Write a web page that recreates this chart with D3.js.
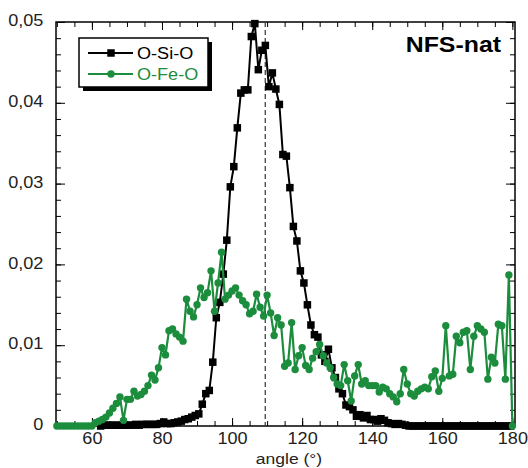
<!DOCTYPE html>
<html><head><meta charset="utf-8">
<script src="https://cdn.jsdelivr.net/npm/d3@7"></script>
<style>body{margin:0;background:#fff}</style>
</head><body><svg id="c" width="528" height="468"></svg>
<script>
// ---------- data ----------
const seriesNames = ["O-Si-O", "O-Fe-O"];
const siAngles = d3.range(62.5, 180, 1);          // 62.5 .. 179.5
const siValues = [
  0, 0.0001, 0.0001, 0.0001, 0.0001, 0.0001, 0.0001, 0.0001, 0.0001, 0.0001,
  0.0002, 0.0001, 0.0002, 0.0002, 0.0002, 0.0002, 0.0002, 0.0003, 0.0005, 0.0003,
  0.0003, 0.0004, 0.0005, 0.0006, 0.0008, 0.0009, 0.0011, 0.0013, 0.0015, 0.0027,
  0.0040, 0.0044, 0.0079, 0.0134, 0.0153, 0.0188, 0.0230, 0.0296, 0.0321, 0.0369,
  0.0412, 0.0416, 0.0416, 0.0482, 0.0498, 0.0441, 0.0465, 0.0471, 0.0420, 0.0437,
  0.0417, 0.0398, 0.0336, 0.0334, 0.0295, 0.0247, 0.0229, 0.0192, 0.0177, 0.0150,
  0.0125, 0.0113, 0.0110, 0.0088, 0.0080, 0.0095, 0.0072, 0.0060, 0.0046, 0.0040,
  0.0026, 0.0024, 0.0020, 0.0012, 0.0014, 0.0010, 0.0013, 0.0008, 0.0008, 0.0006,
  0.0009, 0.0007, 0.0004, 0.0003, 0.0002, 0.0003, 0.0002, 0.0001, 0, 0,
  0, 0, 0, 0, 0, 0, 0, 0, 0, 0,
  0, 0, 0, 0, 0, 0, 0, 0, 0, 0,
  0, 0, 0, 0, 0, 0, 0, 0
];
const feAngles = d3.range(50, 181, 1);            // 50 .. 180
const feValues = [
  0, 0, 0, 0, 0, 0, 0, 0, 0, 0,
  0, 0.0004, 0.0006, 0.0008, 0.0011, 0.0016, 0.0022, 0.0028, 0.0036, 0.0007,
  0.0033, 0.0033, 0.0043, 0.0037, 0.0039, 0.0043, 0.0050, 0.0063, 0.0057, 0.0072,
  0.0097, 0.0088, 0.0118, 0.0120, 0.0114, 0.0110, 0.0105, 0.0157, 0.0142, 0.0135,
  0.0150, 0.0171, 0.0159, 0.0165, 0.0192, 0.0142, 0.0177, 0.0215, 0.0157, 0.0162,
  0.0167, 0.0171, 0.0162, 0.0155, 0.0150, 0.0139, 0.0142, 0.0163, 0.0147, 0.0136,
  0.0162, 0.0140, 0.0112, 0.0134, 0.0125, 0.0074, 0.0078, 0.0128, 0.0070, 0.0087,
  0.0097, 0.0075, 0.0070, 0.0084, 0.0092, 0.0101, 0.0087, 0.0078, 0.0072, 0.0060,
  0.0052, 0.0050, 0.0076, 0.0056, 0.0031, 0.0062, 0.0076, 0.0052, 0.0056, 0.0050,
  0.0050, 0.0050, 0.0042, 0.0048, 0.0046, 0.0040, 0.0036, 0.0030, 0.0040, 0.0070,
  0.0052, 0.0040, 0.0037, 0.0043, 0.0046, 0.0048, 0.0046, 0.0061, 0.0068, 0.0043,
  0.0059, 0.0124, 0.0062, 0.0064, 0.0111, 0.0103, 0.0116, 0.0118, 0.0070, 0.0111,
  0.0124, 0.0120, 0.0116, 0.0058, 0.0085, 0.0078, 0.0126, 0.0124, 0.0058, 0.0187,
  0
];
const xMajorTicks = [60, 80, 100, 120, 140, 160, 180];
const xTickLabels = ["60", "80", "100", "120", "140", "160", "180"];
const xMinorTicks = d3.range(50, 181, 5);
const yMajorTicks = [0, 0.01, 0.02, 0.03, 0.04, 0.05];
const yTickLabels = ["0", "0,01", "0,02", "0,03", "0,04", "0,05"];
const yMinorTicks = d3.range(0, 0.0501, 0.002);
const tetraAngle = 109.47;
const titleText = "NFS-nat";
const xTitle = "angle (°)";

// ---------- drawing ----------
const GREEN = "#1b8d3d";
const FONT = "'Liberation Sans', Arial, Helvetica, sans-serif";
const SX = 1.13;
const svg = d3.select("#c");
const L = 56, R = 515, T = 22, B = 426;
const x = d3.scaleLinear().domain([49.75, 180.75]).range([L, R]);
const y = d3.scaleLinear().domain([0, 0.05]).range([B, T]);

function addAxis(axis, tr) {
  const g = svg.append("g").attr("transform", tr).call(axis);
  g.select(".domain").remove();
  g.attr("color", "#000").attr("font-family", FONT).attr("font-size", 16);
  g.selectAll(".tick line").attr("stroke-width", 1);
  return g;
}
// minor ticks
addAxis(d3.axisBottom(x).tickValues(xMinorTicks).tickSizeInner(-5).tickSizeOuter(0).tickFormat(""), `translate(0,${B})`);
addAxis(d3.axisTop(x).tickValues(xMinorTicks).tickSizeInner(-5).tickSizeOuter(0).tickFormat(""), `translate(0,${T})`);
addAxis(d3.axisLeft(y).tickValues(yMinorTicks).tickSizeInner(-5).tickSizeOuter(0).tickFormat(""), `translate(${L},0)`);
addAxis(d3.axisRight(y).tickValues(yMinorTicks).tickSizeInner(-5).tickSizeOuter(0).tickFormat(""), `translate(${R},0)`);
// major ticks
const gx = addAxis(d3.axisBottom(x).tickValues(xMajorTicks).tickSizeInner(-8).tickSizeOuter(0)
  .tickFormat((d, i) => xTickLabels[i]), `translate(0,${B})`);
gx.selectAll(".tick text").attr("y", 18).attr("dy", 0).attr("fill", "#222")
  .attr("transform", `scale(${SX},1)`);
addAxis(d3.axisTop(x).tickValues(xMajorTicks).tickSizeInner(-8).tickSizeOuter(0).tickFormat(""), `translate(0,${T})`);
const gy = addAxis(d3.axisLeft(y).tickValues(yMajorTicks).tickSizeInner(-9).tickSizeOuter(0)
  .tickFormat((d, i) => yTickLabels[i]), `translate(${L},0)`);
gy.selectAll(".tick text").attr("x", -12.7 / SX).attr("dy", "0.23em").attr("fill", "#222")
  .attr("transform", `scale(${SX},1)`);
addAxis(d3.axisRight(y).tickValues(yMajorTicks).tickSizeInner(-9).tickSizeOuter(0).tickFormat(""), `translate(${R},0)`);

// frame
svg.append("rect").attr("x", L).attr("y", T).attr("width", R - L).attr("height", B - T)
  .attr("fill", "none").attr("stroke", "#000").attr("stroke-width", 1.5);

// dashed tetrahedral line
svg.append("line").attr("x1", x(tetraAngle)).attr("x2", x(tetraAngle))
  .attr("y1", y(0.05)).attr("y2", y(0))
  .attr("stroke", "#333").attr("stroke-width", 1.2).attr("stroke-dasharray", "5,3");

const line = d3.line().x(d => x(d[0])).y(d => y(d[1]));
const siData = siAngles.map((a, i) => [a, siValues[i]]);
const feData = feAngles.map((a, i) => [a, feValues[i]]);

// O-Si-O
svg.append("path").datum(siData).attr("d", line).attr("fill", "none")
  .attr("stroke", "#000").attr("stroke-width", 2).attr("stroke-linejoin", "round");
svg.append("g").selectAll("rect").data(siData).join("rect")
  .attr("x", d => x(d[0]) - 3.75).attr("y", d => y(d[1]) - 3.75)
  .attr("width", 7.5).attr("height", 7.5).attr("fill", "#000");

// O-Fe-O
svg.append("path").datum(feData).attr("d", line).attr("fill", "none")
  .attr("stroke", GREEN).attr("stroke-width", 2.2).attr("stroke-linejoin", "round");
svg.append("g").selectAll("circle").data(feData).join("circle")
  .attr("cx", d => x(d[0])).attr("cy", d => y(d[1])).attr("r", 3.7).attr("fill", GREEN);

// legend
svg.append("rect").attr("x", 83).attr("y", 42).attr("width", 129).attr("height", 49).attr("fill", "#000");
svg.append("rect").attr("x", 79).attr("y", 38).attr("width", 129).attr("height", 49)
  .attr("fill", "#fff").attr("stroke", "#000").attr("stroke-width", 1.5);
const legY = [53, 74], legCol = ["#000", GREEN];
seriesNames.forEach((n, i) => {
  svg.append("line").attr("x1", 88).attr("x2", 133).attr("y1", legY[i]).attr("y2", legY[i])
    .attr("stroke", legCol[i]).attr("stroke-width", 2);
  if (i === 0) svg.append("rect").attr("x", 111 - 3.75).attr("y", legY[i] - 3.75).attr("width", 7.5).attr("height", 7.5).attr("fill", "#000");
  else svg.append("circle").attr("cx", 111).attr("cy", legY[i]).attr("r", 3.7).attr("fill", GREEN);
  svg.append("text").attr("transform", `translate(137,${legY[i] + 6}) scale(${SX},1)`)
    .attr("font-family", FONT).attr("font-size", 16).attr("fill", legCol[i]).text(n);
});

// title
svg.append("text").attr("transform", `translate(501,52) scale(${SX},1)`)
  .attr("text-anchor", "end").attr("font-family", FONT).attr("font-weight", "bold")
  .attr("font-size", 22).attr("fill", "#000").text(titleText);

// x axis title
svg.append("text").attr("transform", `translate(289,464) scale(${SX},1)`)
  .attr("text-anchor", "middle").attr("font-family", FONT)
  .attr("font-size", 15.5).attr("fill", "#222").text(xTitle);
</script></body></html>
